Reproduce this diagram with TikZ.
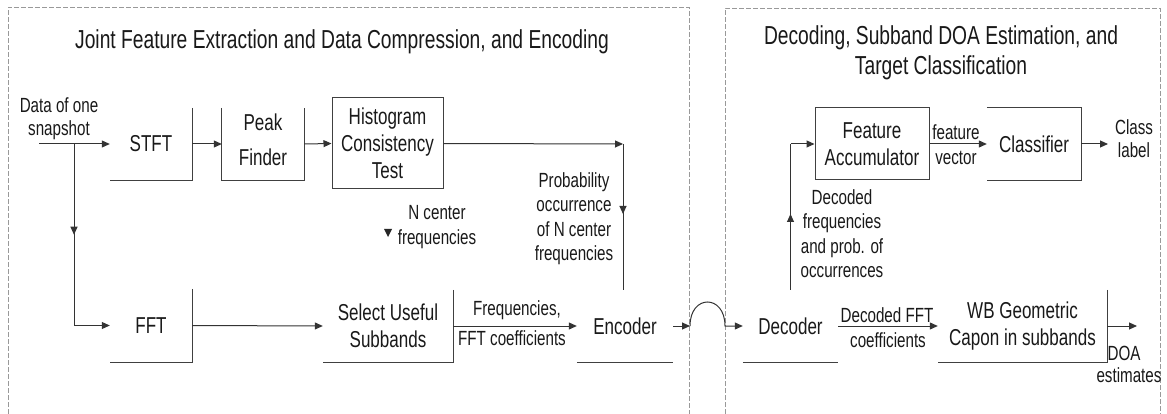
\documentclass[tikz,border=0pt]{standalone}
\usepackage{fontspec}
\setmainfont{Liberation Sans}[FakeStretch=0.74]
\usetikzlibrary{arrows.meta,decorations.markings}
\newcommand\blkfont{\fontsize{23}{27}\selectfont}
\newcommand\lblfont{\fontsize{20.5}{24.5}\selectfont}
\newcommand\ttlfont{\fontsize{26}{30}\selectfont}
\tikzset{
  arr/.style={-{Triangle[length=8pt,width=7pt]}},
  conn/.style={draw=black!80, line width=1pt},
  panel/.style={draw=black!40, line width=0.8pt, dash pattern=on 5pt off 2pt},
  blk/.style={align=center, font=\blkfont, text=black!90, inner sep=0pt},
  side/.style={draw=black!75, line width=1pt},
  lbl/.style={align=center, font=\lblfont, text=black!90, inner sep=0pt},
  ttl/.style={align=center, font=\ttlfont, text=black!90, inner sep=0pt},
  midtip/.style={postaction={decorate}, decoration={markings, mark=at position #1 with {\arrow{Triangle[length=8pt,width=7pt]}}}},
}
\begin{document}
\begin{tikzpicture}[x=1pt,y=-1pt]
\useasboundingbox (0,0) rectangle (1167,414);
\fill[white] (0,0) rectangle (1167,414);
% panels
\draw[panel] (8,414) -- (8,7) -- (689,7) -- (689,414);
\draw[panel] (725,414) -- (725,8) -- (1160,8) -- (1160,414);
% titles
\node[ttl] (t1) at (342,42) {Joint Feature Extraction and Data Compression, and Encoding};
\node[ttl] (t2) at (941,53) {Decoding, Subband DOA Estimation, and\\Target Classification};
% blocks
\node[blk, minimum width=82pt, minimum height=72pt] (stft) at (151,144) {STFT};
\node[blk, minimum width=82pt, minimum height=72pt] (peak) at (263,144) {};
\node[blk, font=\fontsize{23}{35}\selectfont] (peakt) at (263,140) {Peak\\Finder};
\node[blk, draw=black!75, line width=1pt, minimum width=111pt, minimum height=91pt] (hist) at (387.5,143.5) {Histogram\\Consistency\\Test};
\node[blk, minimum width=82pt, minimum height=73pt] (fft) at (151,325.5) {FFT};
\node[blk, minimum width=130pt, minimum height=72pt] (sel) at (388,326) {Select Useful\\Subbands};
\node[blk, minimum width=96pt, minimum height=72pt] (enc) at (625,326) {Encoder};
\node[blk, minimum width=95pt, minimum height=72pt] (dec) at (790.5,326) {Decoder};
\node[blk, minimum width=169pt, minimum height=72pt] (wb) at (1022.5,326) {WB Geometric\\Capon in subbands};
\node[blk, draw=black!75, line width=1pt, minimum width=114pt, minimum height=72pt] (fa) at (872,144) {Feature\\Accumulator};
\node[blk, minimum width=94pt, minimum height=72pt] (cls) at (1034,144) {Classifier};
% partial sides
\draw[side] (stft.north east) -- (stft.south east) -- (stft.south west);
\draw[side] (peak.north west) -- (peak.south west) -- (peak.south east) -- (peak.north east);
\draw[side] (fft.north east) -- (fft.south east) -- (fft.south west);
\draw[side] (sel.north east) -- (sel.south east) -- (sel.south west);
\draw[side] (enc.south west) -- (enc.south east);
\draw[side] (dec.south west) -- (dec.south east);
\draw[side] (wb.north east) -- (wb.south east) -- (wb.south west);
\draw[side] (cls.north west) -- (cls.north east) -- (cls.south east) -- (cls.south west);
% coordinates
\coordinate (in) at (39,144);
\coordinate (br) at (74,144);
\coordinate (hc) at (623,144);
\coordinate (ea) at (690,326);
\coordinate (eb) at (725,326);
\coordinate (doa) at (1137,326);
\coordinate (cl) at (1108,144);
\coordinate (du) at (790.5,144);
% connectors
\draw[conn,arr] (in) -- (stft.west);
\draw[conn,midtip=0.5] (br) -- (br |- fft.west);
\draw[conn,arr] (br |- fft.west) -- (fft.west);
\draw[conn,arr] (stft.east) -- (peak.west);
\draw[conn,arr] (peak.east) -- (hist.west);
\draw[conn,arr] (hist.east) -- (hc);
\draw[conn,midtip=0.48] (hc) -- (hc |- enc.north);
\fill[black!85] (384,229) -- (392,229) -- (388,237) -- cycle;
\draw[conn,arr] (fft.east) -- (sel.west);
\draw[conn,arr] (sel.east) -- (enc.west);
\draw[conn,arr] (enc.east) -- (ea);
\draw[conn,arr] (ea) .. controls (690,294) and (725,294) .. (eb) -- (dec.west);
\draw[conn,arr] (dec.east) -- (wb.west);
\draw[conn,arr] (wb.east) -- (doa);
\draw[conn,midtip=0.52] (dec.north) -- (du);
\draw[conn,arr] (du) -- (fa.west);
\draw[conn,arr] (fa.east) -- (cls.west);
\draw[conn,arr] (cls.east) -- (cl);
% labels
\node[lbl, font=\fontsize{20.5}{23}\selectfont] (datal) at (59,118.5) {Data of one\\snapshot};
\node[lbl] (ncf) at (437,227) {N center\\frequencies};
\node[lbl] (prob) at (574,218.5) {Probability\\occurrence\\of N center\\frequencies};
\node[lbl] (freql) at (517,310) {Frequencies,};
\node[lbl] (fftc) at (512,338) {FFT coefficients};
\node[lbl] (decl) at (842,233.5) {Decoded\\frequencies\\and prob. of\\occurrences};
\node[lbl] (dfft) at (887,315) {Decoded FFT};
\node[lbl] (coef) at (888,340) {coefficients};
\node[lbl] (fv) at (956,144.5) {feature\\vector};
\node[lbl, font=\fontsize{20.5}{23}\selectfont] (clsl) at (1134,138.5) {Class\\label};
\node[lbl] (doal) at (1124,353) {DOA};
\node[lbl] (estl) at (1129,375) {estimates};
\end{tikzpicture}
\end{document}
